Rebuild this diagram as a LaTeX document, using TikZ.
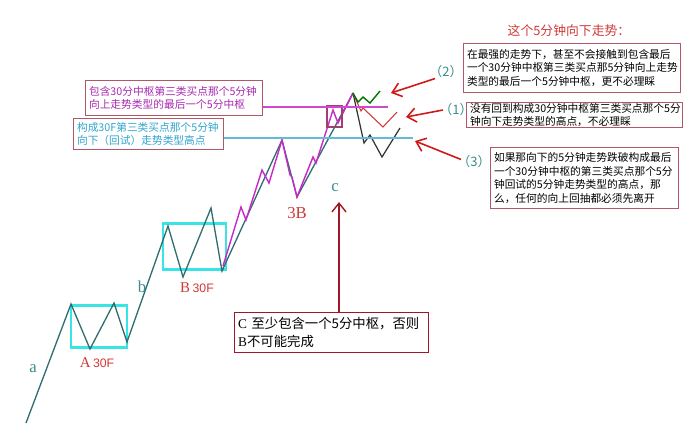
\documentclass[tikz,border=0pt]{standalone}
\usepackage{fontspec}
\setmainfont{Liberation Serif}
\setsansfont{Liberation Sans}
\newfontfamily\cjk{Noto Sans CJK SC}
\usetikzlibrary{arrows.meta}
\definecolor{trend}{HTML}{2F6E70}
\definecolor{subtrend}{HTML}{C828C8}
\definecolor{zcyan}{HTML}{38E4E4}
\definecolor{boxedge}{HTML}{B05868}
\definecolor{darkedge}{HTML}{A01828}
\definecolor{arrowred}{HTML}{D01818}
\definecolor{labred}{HTML}{D03838}
\definecolor{labteal}{HTML}{3A8C8C}
\definecolor{txtmag}{HTML}{A828B0}
\definecolor{txtcyan}{HTML}{30A4CC}
\tikzset{
  zhbox/.style={draw=boxedge, line width=0.6pt, anchor=north west, align=left,
    inner xsep=2pt, inner ysep=1pt, font=\cjk\fontsize{6.1}{7.8}\selectfont},
  zhong/.style={draw=zcyan, line width=1.7pt},
  callout/.style={draw=arrowred, line width=0.9pt, -{Straight Barb[length=5pt,width=8pt]}},
  wavelbl/.style={text=labteal, font=\fontsize{9.5}{10}\selectfont, inner sep=0pt},
  seglbl/.style={text=labred, font=\fontsize{8.5}{10}\selectfont, inner sep=0pt},
  numlbl/.style={text=labteal, font=\cjk\fontsize{7.4}{8}\selectfont, inner sep=0pt}
}
\begin{document}
\begin{tikzpicture}[x=0.02cm, y=-0.02cm]
\useasboundingbox (0,0) rectangle (690,437);

% 30F centres
\draw[zhong] (71,305) rectangle (127,347);
\draw[zhong] (163,223) rectangle (226,269);

% Main trend
\coordinate (peak) at (353,93);
\draw[trend, line width=0.75pt] (26,423) -- (71,304) -- (90,349) -- (114,303) -- (127,342)
  -- (168,226) -- (183,277) -- (211,208) -- (222,271) -- (282,140) -- (297,197) -- (peak);

% 5F sub-trend
\draw[subtrend, line width=0.8pt] (223,266) -- (241,207) -- (246,220) -- (262,170) -- (269,183)
  -- (282,140) -- (290,175) -- (292,177) -- (297,197) -- (313,157) -- (316,163) -- (333,110)
  -- (338,123) -- (peak);
\draw[draw=boxedge!70!violet, line width=0.6pt] (327,106) rectangle (342,127);

% Three ways down
\draw[black!80, line width=0.7pt] (peak) -- (364,143) -- (370,135) -- (382,157) -- (400,128);
\draw[labred, line width=0.6pt] (peak) -- (361,111) -- (363,108) -- (383,127) -- (397,112) coordinate (rEnd);
\draw[green!45!black, line width=0.8pt] (peak) -- (358,102) -- (363,97) -- (370,103) -- (380,91) coordinate (gEnd);

% Text boxes
\node[zhbox, text=txtmag, text width=3.40cm, minimum height=0.70cm] (boxTop) at (85,80)
  {包含30分中枢第三类买点那个5分钟\\向上走势类型的最后一个5分中枢};
\node[zhbox, text=txtcyan, text width=2.86cm, minimum height=0.62cm] (boxCyan) at (73,118)
  {构成30F第三类买点那个5分钟\\向下（回试）走势类型高点};
\node[zhbox, text width=4.20cm, minimum height=0.98cm] (box2) at (463,43)
  {在最强的走势下，甚至不会接触到包含最后\\一个30分钟中枢第三类买点那5分钟向上走势\\类型的最后一个5分钟中枢，更不必理睬};
\node[zhbox, text width=4.18cm, minimum height=0.46cm, inner ysep=0.3pt] (box1) at (466,102)
  {没有回到构成30分钟中枢第三类买点那个5分\\钟向下走势类型的高点，不必理睬};
\node[zhbox, text width=3.62cm, minimum height=1.22cm] (box3) at (490,147)
  {如果那向下的5分钟走势跌破构成最后\\一个30分钟中枢的第三类买点那个5分\\钟回试的5分钟走势类型的高点，那\\么，任何的向上回抽都必须先离开};
\node[zhbox, draw=darkedge, line width=0.8pt, text width=3.74cm, minimum height=0.80cm,
  font=\cjk\fontsize{7.6}{10.2}\selectfont] (boxC) at (234,312)
  {{\rmfamily C} 至少包含一个5分中枢，否则\\{\rmfamily B}不可能完成};

% Levels
\coordinate (mEnd) at (388,107);
\coordinate (cEnd) at (413,138);
\draw[subtrend!85!white, line width=0.6pt] (boxTop.east |- mEnd) -- (mEnd);
\draw[txtcyan!75!white, line width=0.7pt] (boxCyan.east |- cEnd) -- (cEnd);

% Labels
\node[text=labred, font=\cjk\fontsize{7.3}{9}\selectfont] (title) at (569,31) {这个5分钟向下走势：};
\node[wavelbl] (la) at (33,369) {a};
\node[wavelbl] (lb) at (142,287) {b};
\node[wavelbl] (lc) at (335,188) {c};
\node[seglbl] (lA) at (97,363) {A\,{\sffamily\fontsize{7}{8}\selectfont 30F}};
\node[seglbl] (lB) at (197,288) {B\,{\sffamily\fontsize{7}{8}\selectfont 30F}};
\node[seglbl, font=\fontsize{9.5}{10}\selectfont] (l3B) at (297,213) {3B};
\node[numlbl] (n2) at (446,72) {（2）};
\node[numlbl] (n1) at (456,110) {（1）};
\node[numlbl] (n3) at (474,162) {（3）};

% Callouts
\coordinate (gHead) at (391,93);
\coordinate (rHead) at (406,117);
\coordinate (cHead) at (415,141);
\coordinate (cTip) at (339,202);
\draw[callout] ([xshift=0.12cm]n2.south west) -- (gHead);
\draw[callout] ([xshift=0.08cm]n1.west) -- (rHead);
\draw[callout] ([xshift=0.08cm,yshift=0.05cm]n3.west) -- (cHead);
\draw[callout, draw=darkedge, line width=0.8pt] (boxC.north -| cTip) -- (cTip);
\end{tikzpicture}
\end{document}
